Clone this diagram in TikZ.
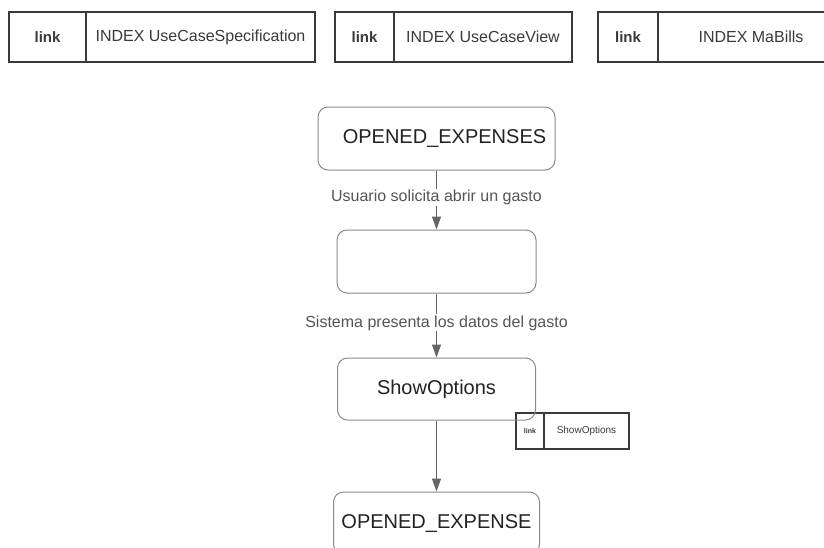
\documentclass[tikz,border=0pt]{standalone}
\usepackage{fontspec}
\setmainfont{Liberation Sans}
\usetikzlibrary{arrows.meta}
\definecolor{boxline}{HTML}{8A8A8A}
\definecolor{linkline}{HTML}{3A3A3A}
\definecolor{arrowcol}{HTML}{666666}
\definecolor{labelcol}{HTML}{555555}
\definecolor{maintext}{HTML}{222222}
\tikzset{
  linkcell/.style={draw=linkline, line width=1.5pt, rectangle, inner sep=0pt, text=linkline},
  state/.style={draw=boxline, line width=1pt, rounded corners=10pt, rectangle, inner sep=0pt,
    font=\fontsize{20}{24}\selectfont, text=maintext},
  flow/.style={draw=arrowcol, line width=1.2pt, -{Triangle[length=13pt,width=9pt]}},
  flowlabel/.style={fill=white, inner sep=1pt, text=labelcol, font=\fontsize{16}{19}\selectfont}
}
\begin{document}
\begin{tikzpicture}[x=1pt,y=-1pt]
\useasboundingbox (0,0) rectangle (824,547);
\clip (0,0) rectangle (824,547);
\fill[white] (0,0) rectangle (824,547);
% top link boxes
\node[linkcell, minimum width=77pt, minimum height=50pt, font=\bfseries\fontsize{15}{18}\selectfont] (l1) at (47.5,37) {link};
\node[linkcell, minimum width=229pt, minimum height=50pt, font=\fontsize{16}{19}\selectfont] (t1) at (200.5,37) {INDEX UseCaseSpecification};
\node[linkcell, minimum width=59pt, minimum height=50pt, font=\bfseries\fontsize{15}{18}\selectfont] (l2) at (364.5,37) {link};
\node[linkcell, minimum width=178pt, minimum height=50pt, font=\fontsize{16}{19}\selectfont] (t2) at (483,37) {INDEX UseCaseView};
\node[linkcell, minimum width=60pt, minimum height=50pt, font=\bfseries\fontsize{15}{18}\selectfont] (l3) at (628,37) {link};
\node[linkcell, minimum width=186pt, minimum height=50pt, font=\fontsize{16}{19}\selectfont] (t3) at (751,37) {INDEX MaBills};
% small link box
\node[linkcell, line width=1.3pt, minimum width=28pt, minimum height=36pt, font=\bfseries\fontsize{7}{8}\selectfont] (l4) at (530,431) {link};
\node[linkcell, line width=1.3pt, minimum width=85pt, minimum height=36pt, font=\fontsize{10}{12}\selectfont] (t4) at (586.5,431) {ShowOptions};
% states
\node[state, minimum width=237pt, minimum height=63pt] (s1) at (436.5,138.5) {\hspace{16pt}OPENED\_EXPENSES};
\node[state, minimum width=199pt, minimum height=63pt] (s2) at (436.5,261.5) {};
\node[state, minimum width=198pt, minimum height=62pt] (s3) at (436.5,389) {ShowOptions};
\node[state, minimum width=206pt, minimum height=62pt] (s4) at (436.5,523) {OPENED\_EXPENSE};
% flows
\draw[flow] (s1.south) -- node[flowlabel, pos=0.45] {Usuario solicita abrir un gasto} (s2.north);
\draw[flow] (s2.south) -- node[flowlabel, pos=0.46] {Sistema presenta los datos del gasto} (s3.north);
\draw[flow] (s3.south) -- (s4.north);
\end{tikzpicture}
\end{document}
